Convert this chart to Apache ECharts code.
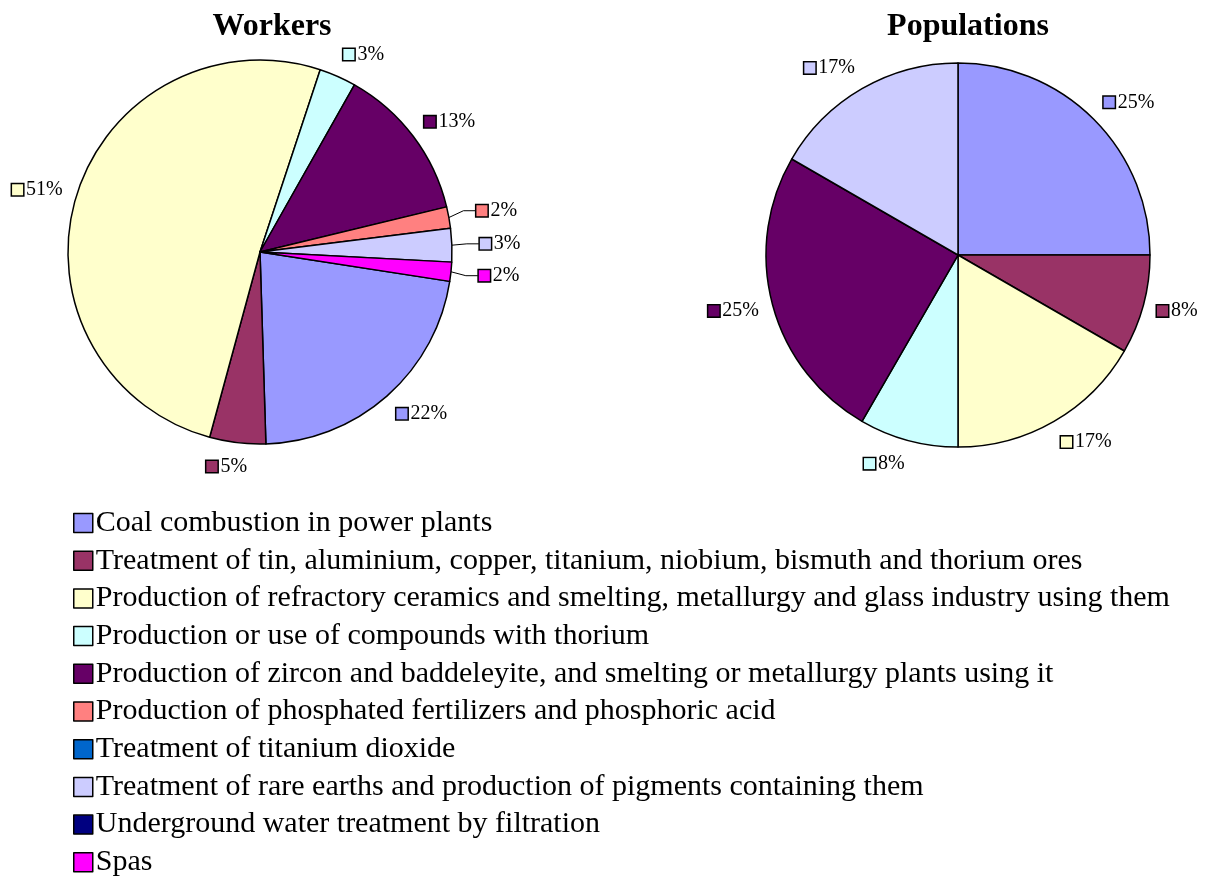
<!DOCTYPE html>
<html>
<head>
<meta charset="utf-8">
<script src="https://cdn.jsdelivr.net/npm/echarts@6/dist/echarts.min.js"></script>
<style>
  html, body { margin: 0; padding: 0; background: #fff; }
  #chart { width: 1205px; height: 877px; }
</style>
</head>
<body>
<div id="chart"></div>
<script>
    // categories shared by both pies (legend order)
    var categories = [
        'Coal combustion in power plants',
        'Treatment of tin, aluminium, copper, titanium, niobium, bismuth and thorium ores',
        'Production of refractory ceramics and smelting, metallurgy and glass industry using them',
        'Production or use of compounds with thorium',
        'Production of zircon and baddeleyite, and smelting or metallurgy plants using it',
        'Production of phosphated fertilizers and phosphoric acid',
        'Treatment of titanium dioxide',
        'Treatment of rare earths and production of pigments containing them',
        'Underground water treatment by filtration',
        'Spas'
    ]
    var colors = ['#9999FF', '#993366', '#FFFFCC', '#CCFFFF', '#660066',
                  '#FF8080', '#0066CC', '#CCCCFF', '#000080', '#FF00FF']

    // shares
    var workers = [22, 4.7, 50.7, 3.1, 13, 1.8, 0, 2.8, 0, 1.6]
    var populations = [3, 1, 2, 1, 3, 0, 0, 2, 0, 0]

    // slices that get a leader line on the workers pie
    var workersLines = [false, false, false, false, false, true, false, true, false, true]

    var font = '"Liberation Serif", "Times New Roman", serif'

    var rich = {
        t: { fontFamily: font, fontSize: 20, color: '#000', padding: [0, 0, 0, 3] }
    }
    colors.forEach(function (c, i) {
        rich['k' + i] = {
            width: 11, height: 11,
            backgroundColor: c,
            borderColor: '#000',
            borderWidth: 1.5
        }
    })

    function buildData(values, lines) {
        return values.map(function (v, i) {
            var item = {
                name: categories[i],
                value: v,
                itemStyle: { color: colors[i] }
            }
            if (v === 0) {
                item.itemStyle.borderWidth = 0
                item.label = { show: false }
                item.labelLine = { show: false }
            } else if (lines && lines[i]) {
                item.labelLine = { lineStyle: { opacity: 1 } }
            }
            return item
        })
    }

    // excel-like placement: push the label box out from the slice edge
    function excelLabel(p) {
        var pts = p.labelLinePoints
        if (!pts) return {}
        var ex = pts[0][0], ey = pts[0][1]
        var dx = pts[1][0] - ex, dy = pts[1][1] - ey
        var len = Math.sqrt(dx * dx + dy * dy) || 1
        dx /= len
        dy /= len
        var lined = p.seriesIndex === 0 && workersLines[p.dataIndex]
        var d = lined ? 28 : 14
        var w = p.labelRect.width, h = p.labelRect.height
        var hx = w / 2 * Math.max(-1, Math.min(1, dx * 4))
        var cx = ex + dx * d + hx
        var cy = ey + dy * d + dy * h / 2
        var x = p.align === 'left' ? cx - w / 2 : (p.align === 'right' ? cx + w / 2 : cx)
        var out = { x: x, y: cy }
        if (lined) {
            var near = dx > 0 ? cx - w / 2 - 1 : cx + w / 2 + 1
            var s = dx > 0 ? 1 : -1
            out.labelLinePoints = [[ex, ey], [near - 12 * s, cy], [near, cy]]
        }
        return out
    }

    function pieSeries(name, center, startAngle, values, lines) {
        return {
            name: name,
            type: 'pie',
            center: center,
            radius: 192,
            startAngle: startAngle,
            clockwise: true,
            avoidLabelOverlap: false,
            itemStyle: { borderColor: '#000', borderWidth: 1.5 },
            emphasis: { disabled: true },
            label: {
                show: true,
                position: 'outside',
                formatter: function (p) {
                    return '{k' + p.dataIndex + '|}{t|' + Math.round(p.percent) + '%}'
                },
                rich: rich
            },
            labelLine: {
                show: true,
                length: 10,
                length2: 4,
                lineStyle: { color: '#000', width: 1, opacity: 0 }
            },
            labelLayout: excelLabel,
            data: buildData(values, lines)
        }
    }

    var chart = echarts.init(document.getElementById('chart'))
    chart.setOption({
        animation: false,
        title: [
            {
                text: 'Workers', left: 267, top: 6, textAlign: 'center',
                textStyle: { fontFamily: font, fontSize: 32, fontWeight: 'bold', color: '#000' }
            },
            {
                text: 'Populations', left: 963, top: 6, textAlign: 'center',
                textStyle: { fontFamily: font, fontSize: 32, fontWeight: 'bold', color: '#000' }
            }
        ],
        legend: {
            orient: 'vertical',
            left: 68,
            top: 503,
            height: 374,
            itemWidth: 19,
            itemHeight: 19,
            itemGap: 7.7,
            icon: 'rect',
            selectedMode: false,
            itemStyle: { borderColor: '#000', borderWidth: 1.5 },
            textStyle: { fontFamily: font, fontSize: 30, color: '#000', lineHeight: 30, padding: [0, 0, 0, -2] },
            data: categories
        },
        series: [
            pieSeries('Workers', [260, 252], -8.8, workers, workersLines),
            pieSeries('Populations', [958, 255], 90, populations, null)
        ]
    })
</script>
</body>
</html>
